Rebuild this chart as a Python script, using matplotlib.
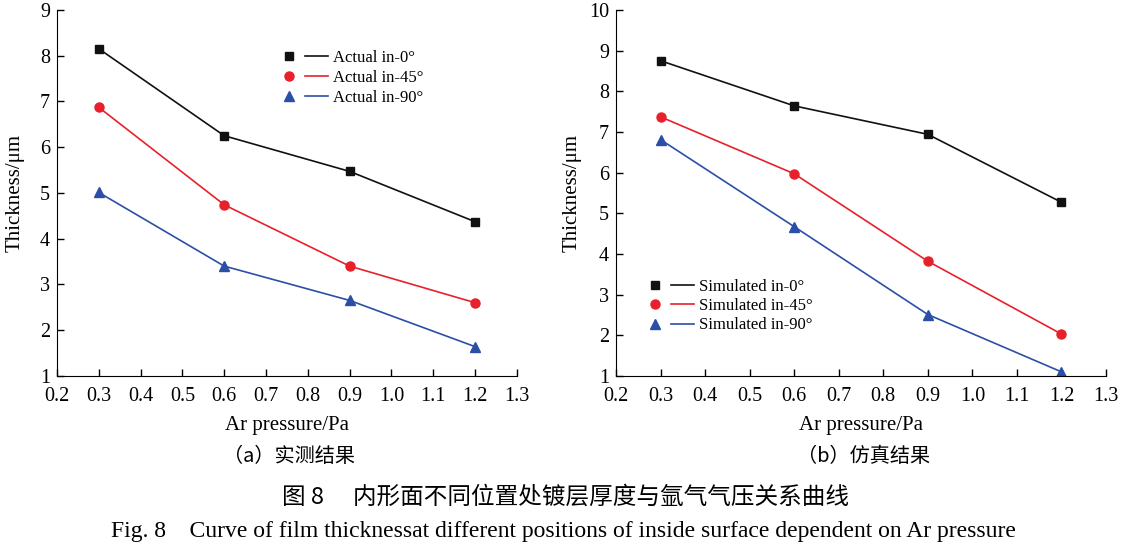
import matplotlib
matplotlib.use('Agg')
import matplotlib.pyplot as plt
from matplotlib.lines import Line2D
from matplotlib.legend_handler import HandlerTuple

# Daten
pressure = [0.3, 0.6, 0.9, 1.2]

actual_0 = [8.15, 6.25, 5.47, 4.37]
actual_45 = [6.87, 4.74, 3.40, 2.60]
actual_90 = [5.01, 3.40, 2.65, 1.64]

sim_0 = [8.75, 7.64, 6.94, 5.27]
sim_45 = [7.37, 5.97, 3.82, 2.03]
sim_90 = [6.81, 4.67, 2.51, 1.10]

labels_a = ['Actual in-0°', 'Actual in-45°', 'Actual in-90°']
labels_b = ['Simulated in-0°', 'Simulated in-45°', 'Simulated in-90°']

colors = ['#111111', '#e8202a', '#2b4ea6']
markers = ['s', 'o', '^']
msizes = [6, 6.5, 6.5]

serif = ['Liberation Serif', 'DejaVu Serif']
cjk = ['Noto Sans CJK SC', 'DejaVu Sans']
plt.rcParams['font.family'] = serif

fig = plt.figure(figsize=(11.21, 5.48), dpi=100)
ax1 = fig.add_axes([0.0508, 0.314, 0.4103, 0.668])
ax2 = fig.add_axes([0.5495, 0.314, 0.4371, 0.668])


def draw(ax, series, labels, ylim, yticks, leg_anchor, spacing):
    handles = []
    for y, c, m, ms in zip(series, colors, markers, msizes):
        ax.plot(pressure, y, color=c, lw=1.2, marker=m, ms=ms, mec=c, mfc=c)
        h_m = Line2D([], [], ls='none', marker=m, color=c, ms=ms)
        h_l = Line2D([], [], color=c, lw=1.2)
        handles.append((h_m, h_l))
    ax.set_xlim(0.2, 1.3)
    ax.set_ylim(*ylim)
    ax.set_xticks([0.2, 0.3, 0.4, 0.5, 0.6, 0.7, 0.8, 0.9, 1.0, 1.1, 1.2, 1.3])
    ax.set_xticklabels(['0.2', '0.3', '0.4', '0.5', '0.6', '0.7', '0.8', '0.9',
                        '1.0', '1.1', '1.2', '1.3'])
    ax.set_yticks(yticks)
    for s in ['top', 'right']:
        ax.spines[s].set_visible(False)
    ax.tick_params(direction='in', length=5, width=1, labelsize=14.5)
    ax.tick_params(axis='x', pad=8)
    ax.tick_params(axis='y', pad=5)
    ax.set_xlabel('Ar pressure/Pa', fontsize=15, labelpad=7)
    ax.set_ylabel('Thickness/μm', fontsize=15)
    ax.yaxis.set_label_coords(-0.071, 0.5)
    ax.legend(handles, labels, handler_map={tuple: HandlerTuple(ndivide=None, pad=0.25)},
              loc='upper left', bbox_to_anchor=leg_anchor, bbox_transform=fig.transFigure,
              frameon=False, fontsize=12, handlelength=3.0, handletextpad=0.3,
              labelspacing=spacing, borderaxespad=0)


draw(ax1, [actual_0, actual_45, actual_90], labels_a, (1, 9), range(1, 10),
     (271 / 1121, 1 - 43 / 548), 0.25)
draw(ax2, [sim_0, sim_45, sim_90], labels_b, (1, 10), range(1, 11),
     (637 / 1121, 1 - 272 / 548), 0.2)

fig.text(289 / 1121, 1 - 457 / 548, '（a）实测结果', ha='center', va='center',
         fontsize=14.5, family=cjk)
fig.text(864 / 1121, 1 - 457 / 548, '（b）仿真结果', ha='center', va='center',
         fontsize=14.5, family=cjk)
fig.text(565 / 1121, 1 - 497 / 548, '图 8　 内形面不同位置处镀层厚度与氩气气压关系曲线',
         ha='center', va='center', fontsize=17, family=cjk)
fig.text(563 / 1121, 1 - 531 / 548,
         'Fig. 8    Curve of film thicknessat different positions of inside surface dependent on Ar pressure',
         ha='center', va='center', fontsize=17, family=serif)

fig.savefig('out.png', dpi=100)
